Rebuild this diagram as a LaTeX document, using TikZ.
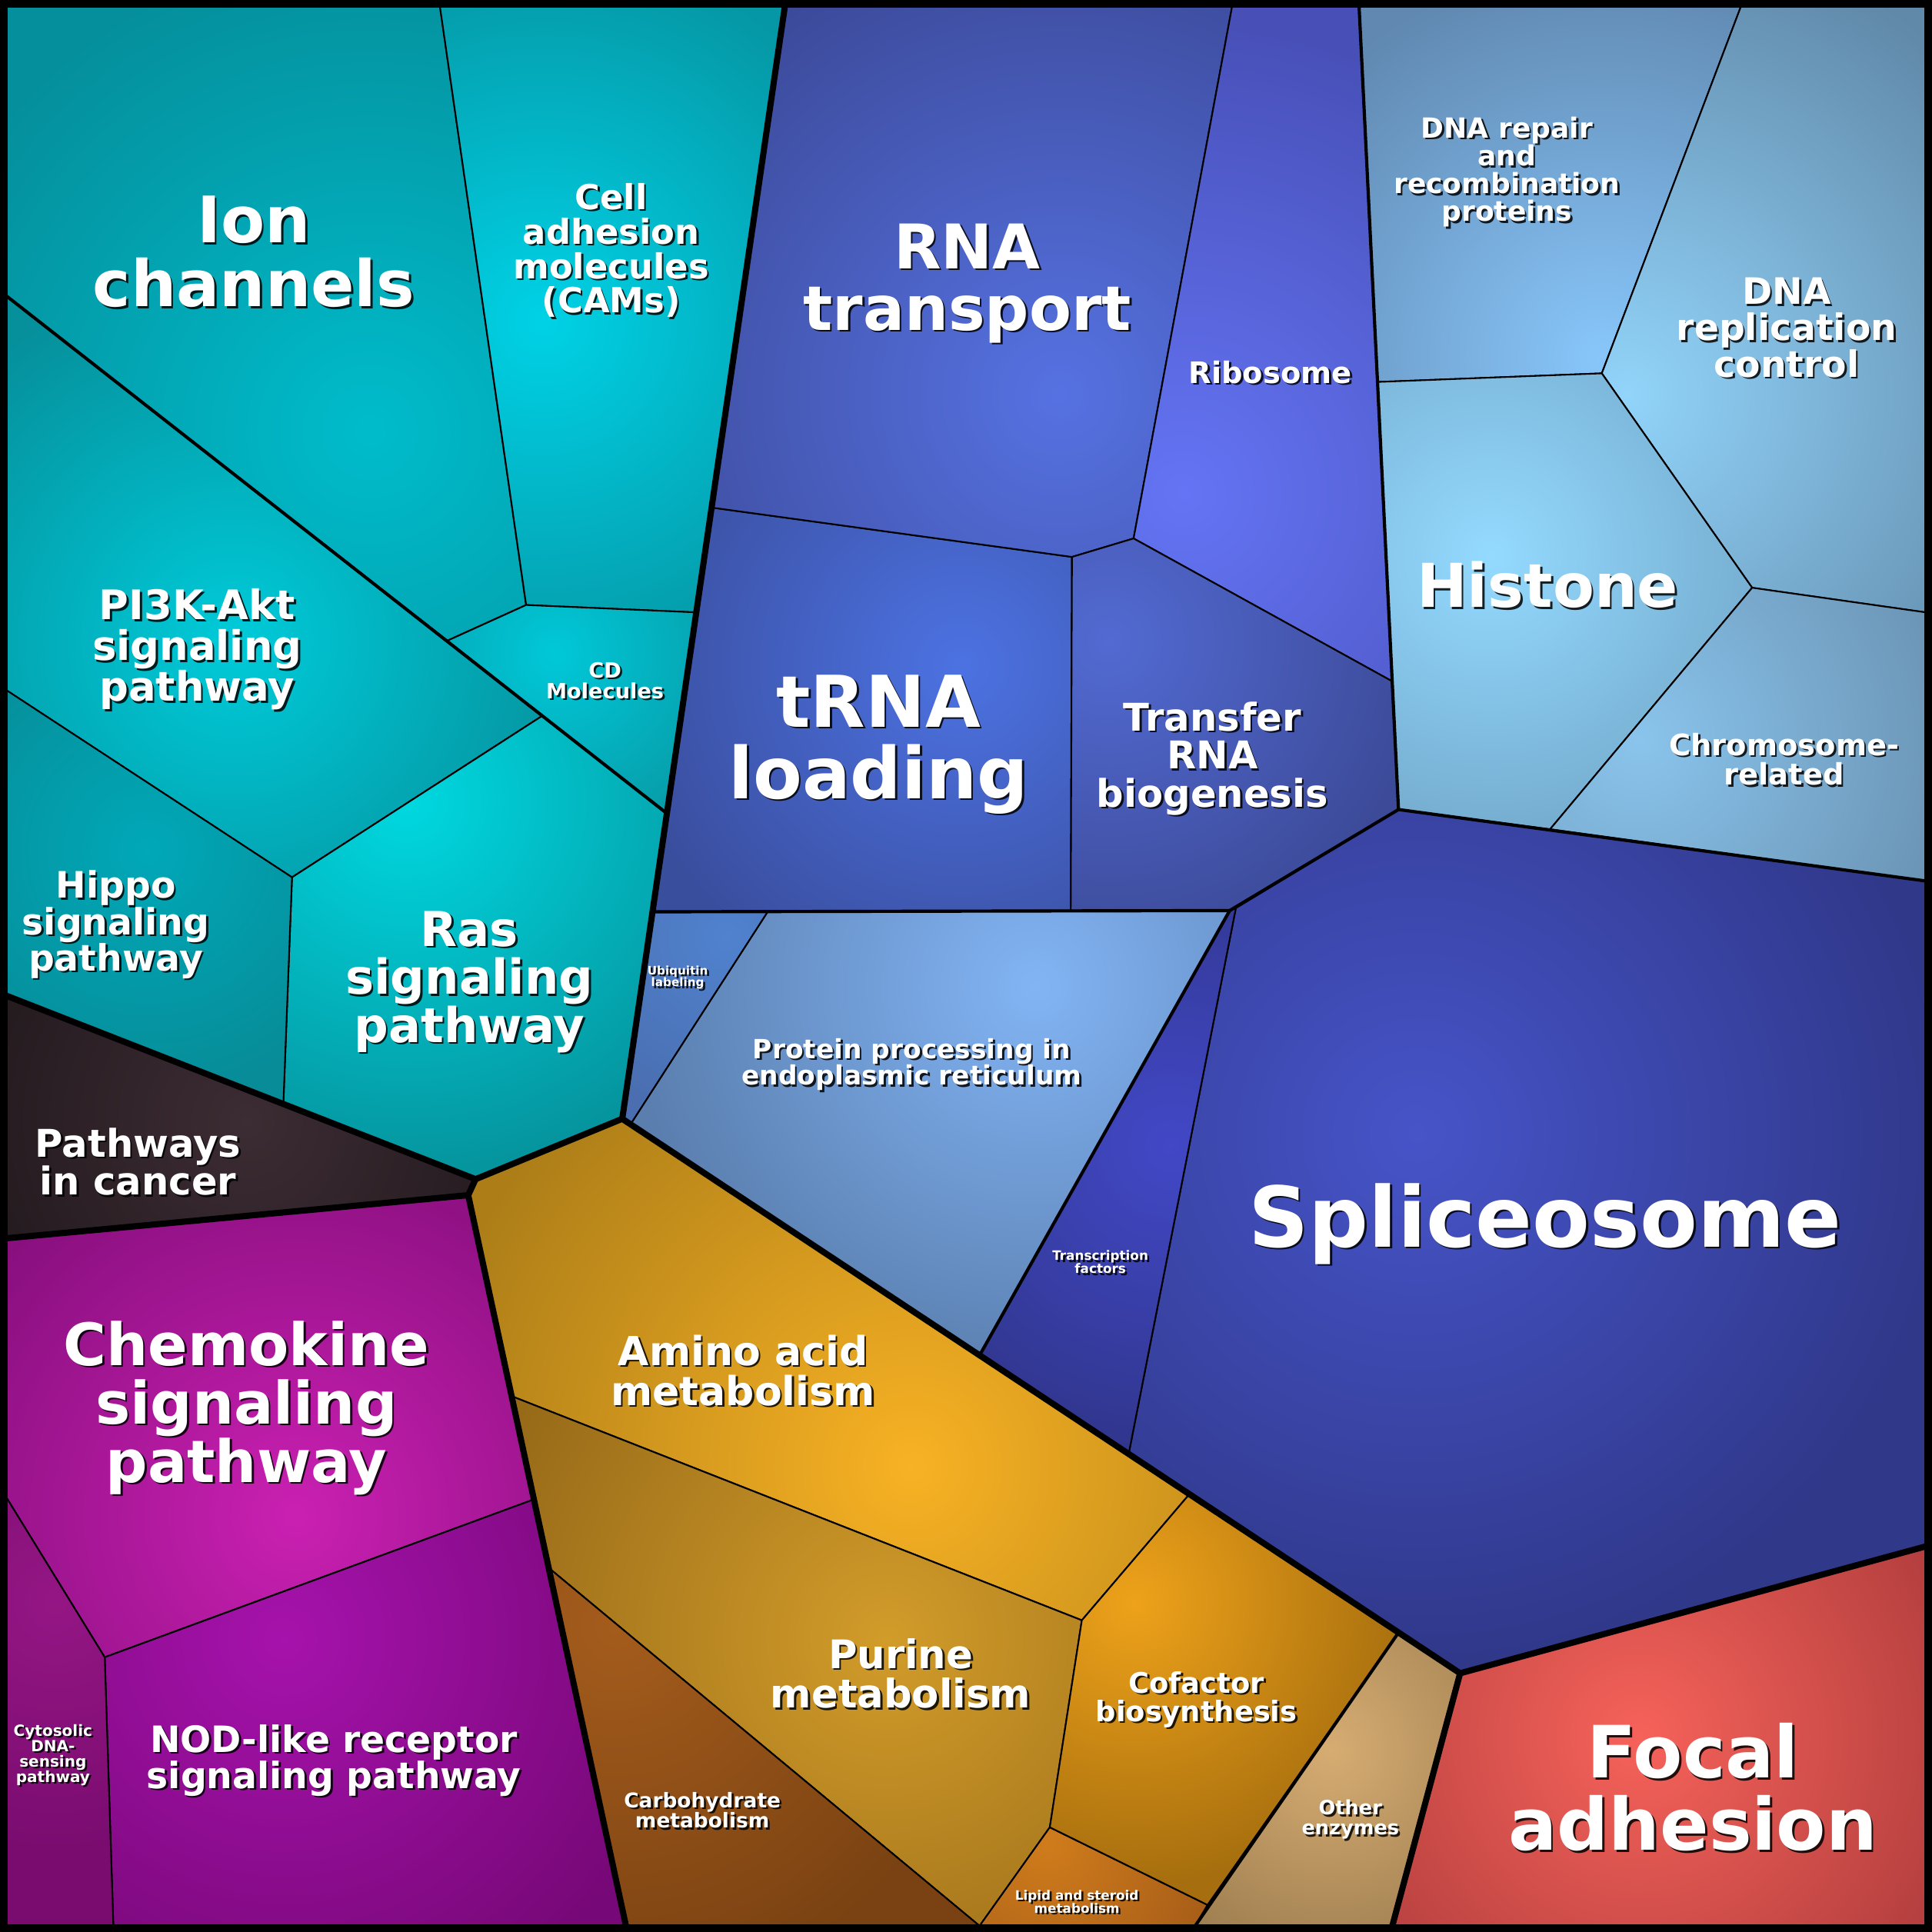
\documentclass[tikz,border=0pt]{standalone}
\usepackage{fontspec}
\setmainfont{DejaVu Sans}
\usetikzlibrary{calc}
% colours: inner (i) and outer (o)
\definecolor{ionI}{HTML}{00BCCB}\definecolor{ionO}{HTML}{058E9B}
\definecolor{camI}{HTML}{00D2E6}\definecolor{camO}{HTML}{0597A5}
\definecolor{cdI}{HTML}{00C8D8}\definecolor{cdO}{HTML}{0898A4}
\definecolor{piI}{HTML}{00CBD9}\definecolor{piO}{HTML}{05909C}
\definecolor{hipI}{HTML}{00A8B8}\definecolor{hipO}{HTML}{078C98}
\definecolor{rasI}{HTML}{00D8E0}\definecolor{rasO}{HTML}{05959F}
\definecolor{canI}{HTML}{3C2C33}\definecolor{canO}{HTML}{241B1F}
\definecolor{cheI}{HTML}{CA20B2}\definecolor{cheO}{HTML}{880F7E}
\definecolor{nodI}{HTML}{A612AC}\definecolor{nodO}{HTML}{770877}
\definecolor{cytI}{HTML}{941684}\definecolor{cytO}{HTML}{7A0C70}
\definecolor{amiI}{HTML}{F8B224}\definecolor{amiO}{HTML}{AD7E18}
\definecolor{purI}{HTML}{D29C2A}\definecolor{purO}{HTML}{976A18}
\definecolor{cofI}{HTML}{EEA21A}\definecolor{cofO}{HTML}{A66E0E}
\definecolor{carI}{HTML}{A45C1C}\definecolor{carO}{HTML}{7A4212}
\definecolor{lipI}{HTML}{D07C1C}\definecolor{lipO}{HTML}{A85E18}
\definecolor{othI}{HTML}{D6AC72}\definecolor{othO}{HTML}{9E7E50}
\definecolor{focI}{HTML}{F6625A}\definecolor{focO}{HTML}{AE3C3C}
\definecolor{splI}{HTML}{4654C8}\definecolor{splO}{HTML}{30388A}
\definecolor{tfI}{HTML}{4248C6}\definecolor{tfO}{HTML}{30368C}
\definecolor{proI}{HTML}{82B4F4}\definecolor{proO}{HTML}{5A7EAE}
\definecolor{ubiI}{HTML}{5082CE}\definecolor{ubiO}{HTML}{4A6EB0}
\definecolor{trnI}{HTML}{4C72E2}\definecolor{trnO}{HTML}{3A4E9E}
\definecolor{tbiI}{HTML}{526AD2}\definecolor{tbiO}{HTML}{3C4A98}
\definecolor{rnaI}{HTML}{5672E2}\definecolor{rnaO}{HTML}{3C4A9A}
\definecolor{ribI}{HTML}{6474F4}\definecolor{ribO}{HTML}{4850B8}
\definecolor{dreI}{HTML}{88C6FA}\definecolor{dreO}{HTML}{6088B0}
\definecolor{dplI}{HTML}{92D4FA}\definecolor{dplO}{HTML}{6088A8}
\definecolor{hisI}{HTML}{94DAFF}\definecolor{hisO}{HTML}{6EA2C4}
\definecolor{chrI}{HTML}{8AC4EC}\definecolor{chrO}{HTML}{6890B0}
% one cell: polygon, gradient centre, radius, inner colour, outer colour
\newcommand\vcell[5]{%
  \begin{scope}
    \clip #1;
    \fill[#5] #1;
    \shade[inner color=#4, outer color=#5] #2 circle (#3);
  \end{scope}
  \draw[thinb] #1;}
% label: name, x, last baseline y, size, text
\newcommand\vlabel[5]{%
  \node[lblsh, font=\fontsize{#4}{#4}\selectfont\bfseries] (#1s) at (#2+1.6,#3+1.6) {#5};
  \node[lbl, font=\fontsize{#4}{#4}\selectfont\bfseries] (#1) at (#2,#3) {#5};}
\tikzset{
  thinb/.style={draw=black, line width=1.3, line join=round},
  medb/.style={draw=black, line width=2.6, line join=round, line cap=round},
  thickb/.style={draw=black, line width=5, line join=round, line cap=round},
  lbl/.style={text=white, align=center, anchor=base, inner sep=0pt},
  lblsh/.style={text=black, opacity=0.85, align=center, anchor=base, inner sep=0pt},
}
\begin{document}
\begin{tikzpicture}[x=1pt, y=-1pt]
\useasboundingbox (0,0) rectangle (1568,1568);
\fill[black] (0,0) rectangle (1568,1568);
% teal group
\vcell{(5,5) -- (357,5) -- (427,491) -- (363,520) -- (5,240) -- cycle}{(300,350)}{400}{ionI}{ionO}
\vcell{(357,5) -- (637,5) -- (565,497) -- (427,491) -- cycle}{(440,260)}{300}{camI}{camO}
\vcell{(427,491) -- (565,497) -- (541,660) -- (363,520) -- cycle}{(450,530)}{170}{cdI}{cdO}
\vcell{(5,240) -- (363,520) -- (440,581) -- (237,712) -- (5,560) -- cycle}{(190,520)}{300}{piI}{piO}
\vcell{(440,581) -- (541,660) -- (505,908) -- (386,957) -- (230,895) -- (237,712) -- cycle}{(330,650)}{300}{rasI}{rasO}
\vcell{(5,560) -- (237,712) -- (230,895) -- (5,808) -- cycle}{(120,690)}{200}{hipI}{hipO}
% pathways in cancer
\vcell{(5,808) -- (386,957) -- (380,970) -- (5,1005) -- cycle}{(200,910)}{220}{canI}{canO}
% purple group
\vcell{(5,1005) -- (380,970) -- (433,1217) -- (85,1345) -- (5,1215) -- cycle}{(240,1230)}{320}{cheI}{cheO}
\vcell{(85,1345) -- (433,1217) -- (508,1563) -- (92,1563) -- cycle}{(230,1330)}{330}{nodI}{nodO}
\vcell{(5,1215) -- (85,1345) -- (92,1563) -- (5,1563) -- cycle}{(45,1300)}{200}{cytI}{cytO}
% orange group
\vcell{(380,970) -- (386,957) -- (505,908) -- (795,1100) -- (965,1213) -- (878,1315) -- (415,1133) -- cycle}{(740,1190)}{400}{amiI}{amiO}
\vcell{(415,1133) -- (878,1315) -- (852,1483) -- (795,1563) -- (446,1273) -- cycle}{(720,1330)}{350}{purI}{purO}
\vcell{(446,1273) -- (795,1563) -- (508,1563) -- cycle}{(500,1320)}{300}{carI}{carO}
\vcell{(852,1483) -- (980,1546) -- (970,1563) -- (795,1563) -- cycle}{(850,1495)}{140}{lipI}{lipO}
\vcell{(965,1213) -- (1135,1325) -- (980,1546) -- (852,1483) -- (878,1315) -- cycle}{(920,1300)}{230}{cofI}{cofO}
\vcell{(1135,1325) -- (1185,1358) -- (1130,1563) -- (970,1563) -- cycle}{(1080,1420)}{180}{othI}{othO}
% focal adhesion
\vcell{(1185,1358) -- (1563,1255) -- (1563,1563) -- (1130,1563) -- cycle}{(1330,1410)}{300}{focI}{focO}
% blue group
\vcell{(1003,737) -- (1135,657) -- (1563,715) -- (1563,1255) -- (1185,1358) -- (916,1180) -- cycle}{(1150,920)}{430}{splI}{splO}
\vcell{(998,739) -- (1003,737) -- (916,1180) -- (795,1100) -- cycle}{(950,930)}{250}{tfI}{tfO}
\vcell{(623,740) -- (998,739) -- (795,1100) -- (512,912) -- cycle}{(840,800)}{330}{proI}{proO}
\vcell{(530,740) -- (623,740) -- (512,912) -- (505,908) -- cycle}{(590,760)}{150}{ubiI}{ubiO}
\vcell{(578,412) -- (870,452) -- (869,739) -- (530,740) -- cycle}{(780,540)}{280}{trnI}{trnO}
\vcell{(637,5) -- (1000,5) -- (920,437) -- (870,452) -- (578,412) -- cycle}{(860,320)}{380}{rnaI}{rnaO}
\vcell{(1000,5) -- (1103,5) -- (1130,553) -- (920,437) -- cycle}{(960,400)}{380}{ribI}{ribO}
\vcell{(870,452) -- (920,437) -- (1130,553) -- (1135,657) -- (998,739) -- (869,739) -- cycle}{(900,520)}{260}{tbiI}{tbiO}
\vcell{(1103,5) -- (1413,5) -- (1300,303) -- (1118,310) -- cycle}{(1300,290)}{320}{dreI}{dreO}
\vcell{(1413,5) -- (1563,5) -- (1563,497) -- (1422,477) -- (1300,303) -- cycle}{(1320,320)}{380}{dplI}{dplO}
\vcell{(1118,310) -- (1300,303) -- (1422,477) -- (1258,673) -- (1135,657) -- cycle}{(1210,450)}{280}{hisI}{hisO}
\vcell{(1422,477) -- (1563,497) -- (1563,715) -- (1258,673) -- cycle}{(1330,600)}{280}{chrI}{chrO}
% sub-group borders
\draw[medb] (5,240) -- (541,660);
\draw[medb] (530,740) -- (998,739) -- (1135,657) -- (1563,715);
\draw[medb] (1103,5) -- (1135,657);
\draw[medb] (998,739) -- (795,1100);
\draw[medb] (1135,1325) -- (970,1563);
% group borders
\draw[thickb] (637,5) -- (505,908) -- (1185,1358) -- (1563,1255);
\draw[thickb] (505,908) -- (386,957) -- (5,808);
\draw[thickb] (386,957) -- (380,970) -- (5,1005);
\draw[thickb] (380,970) -- (508,1563);
\draw[thickb] (1185,1358) -- (1130,1563);
\draw[line width=12] (0,0) rectangle (1568,1568);
% labels (y = baseline of last line)
\vlabel{ion}{206}{249}{52}{Ion\\channels}
\vlabel{cam}{496}{254}{28}{Cell\\adhesion\\molecules\\(CAMs)}
\vlabel{rna}{785}{268}{50}{RNA\\transport}
\vlabel{ribo}{1031}{311}{24}{Ribosome}
\vlabel{dnarep}{1223}{179.5}{22.5}{DNA repair\\and\\recombination\\proteins}
\vlabel{dnarepl}{1450}{306}{29.5}{DNA\\replication\\control}
\vlabel{hist}{1256}{493}{49}{Histone}
\vlabel{chrom}{1448}{637}{24}{Chromosome-\\related}
\vlabel{pik}{160}{569}{33}{PI3K-Akt\\signaling\\pathway}
\vlabel{cdm}{491}{567}{17}{CD\\Molecules}
\vlabel{hippo}{94}{788}{29.5}{Hippo\\signaling\\pathway}
\vlabel{ras}{381}{846}{39}{Ras\\signaling\\pathway}
\vlabel{trna}{713}{648}{58}{tRNA\\loading}
\vlabel{tbio}{984}{655}{31}{Transfer\\RNA\\biogenesis}
\vlabel{ubi}{550}{800.5}{9.5}{Ubiquitin\\labeling}
\vlabel{prot}{740}{880.5}{21.5}{Protein processing in\\endoplasmic reticulum}
\vlabel{tf}{893}{1033.5}{10.5}{Transcription\\factors}
\vlabel{splice}{1254}{1012}{68}{Spliceosome}
\vlabel{cancer}{112}{970}{31}{Pathways\\in cancer}
\vlabel{chemo}{200}{1203}{47.5}{Chemokine\\signaling\\pathway}
\vlabel{cyto}{43}{1446.5}{12.5}{Cytosolic\\DNA-\\sensing\\pathway}
\vlabel{nod}{271}{1451.5}{29.5}{NOD-like receptor\\signaling pathway}
\vlabel{amino}{603}{1140.5}{32.5}{Amino acid\\metabolism}
\vlabel{purine}{731}{1386}{32}{Purine\\metabolism}
\vlabel{cof}{971}{1397}{23}{Cofactor\\biosynthesis}
\vlabel{carb}{570}{1483.5}{16.5}{Carbohydrate\\metabolism}
\vlabel{lipid}{874}{1552.5}{10.5}{Lipid and steroid\\metabolism}
\vlabel{other}{1096}{1489}{16}{Other\\enzymes}
\vlabel{focal}{1374}{1501.5}{58.5}{Focal\\adhesion}
\end{tikzpicture}
\end{document}
